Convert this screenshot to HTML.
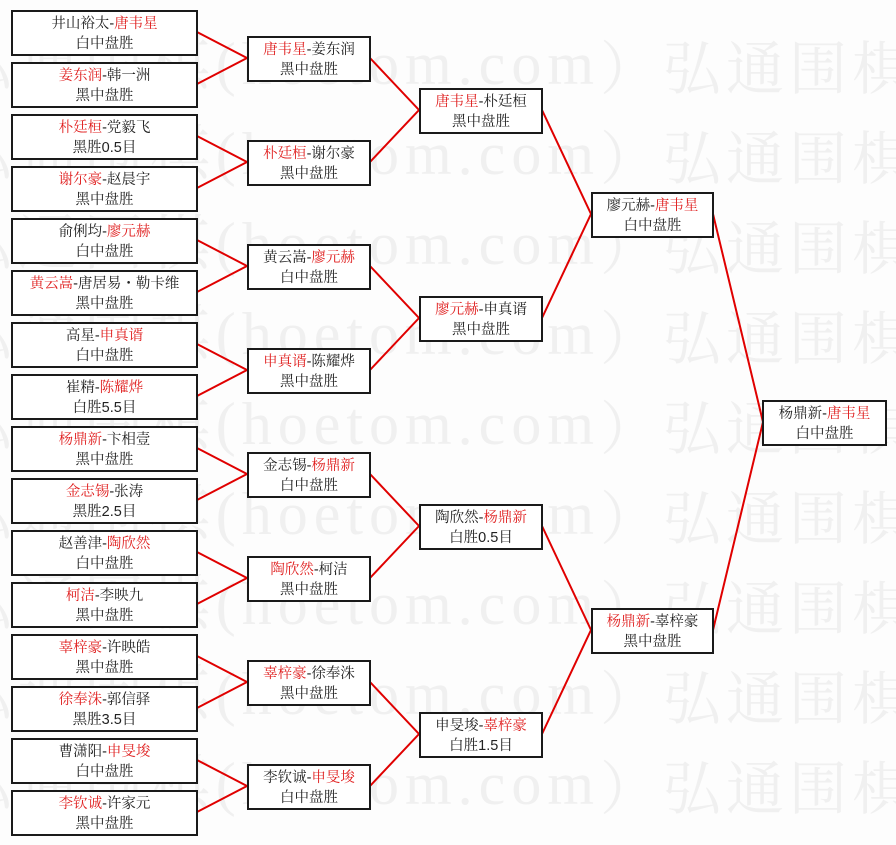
<!DOCTYPE html>
<html><head><meta charset="utf-8">
<style>
html,body{margin:0;padding:0;background:#fdfdfd;}
body{width:896px;height:845px;position:relative;overflow:hidden;font-family:"Liberation Sans","Noto Serif CJK SC","Noto Sans CJK SC",serif;}
.wl{position:absolute;right:296px;font-size:60px;letter-spacing:6px;line-height:64px;color:#f0f0f0;white-space:nowrap;font-family:"Liberation Serif","Noto Serif CJK SC",serif;text-align:right;}
.wr{position:absolute;left:600px;font-size:58px;letter-spacing:5px;line-height:64px;color:#f0f0f0;white-space:nowrap;font-family:"Noto Serif CJK SC",serif;}
.b{position:absolute;box-sizing:border-box;border:2px solid #1a1a1a;background:#fff;text-align:center;font-size:14.5px;line-height:20px;padding-top:2px;color:#222;}
.c1{left:11px;width:187px;height:46px;}
.c2{left:247px;width:124px;height:46px;}
.c3{left:419px;width:124px;height:46px;}
.c4{left:591px;width:123px;height:46px;}
.c5{left:762px;width:125px;height:46px;}
.r{color:#e02020;}
svg{position:absolute;left:0;top:0;}
</style></head><body>
<div class="wl" style="top:32px">弘通围棋(hoetom.com</div><div class="wr" style="top:32px">）弘通围棋</div>
<div class="wl" style="top:122px">弘通围棋(hoetom.com</div><div class="wr" style="top:122px">）弘通围棋</div>
<div class="wl" style="top:212px">弘通围棋(hoetom.com</div><div class="wr" style="top:212px">）弘通围棋</div>
<div class="wl" style="top:302px">弘通围棋(hoetom.com</div><div class="wr" style="top:302px">）弘通围棋</div>
<div class="wl" style="top:392px">弘通围棋(hoetom.com</div><div class="wr" style="top:392px">）弘通围棋</div>
<div class="wl" style="top:482px">弘通围棋(hoetom.com</div><div class="wr" style="top:482px">）弘通围棋</div>
<div class="wl" style="top:572px">弘通围棋(hoetom.com</div><div class="wr" style="top:572px">）弘通围棋</div>
<div class="wl" style="top:662px">弘通围棋(hoetom.com</div><div class="wr" style="top:662px">）弘通围棋</div>
<div class="wl" style="top:752px">弘通围棋(hoetom.com</div><div class="wr" style="top:752px">）弘通围棋</div>

<svg width="896" height="845">
<g stroke="#e00000" stroke-width="2" fill="none">
<path d="M197 32L247 58L197 84 M197 136L247 162L197 188 M197 240L247 266L197 292 M197 344L247 370L197 396 M197 448L247 474L197 500 M197 552L247 578L197 604 M197 656L247 682L197 708 M197 760L247 786L197 812"/>
<path d="M370 58L419 110L370 162 M370 266L419 318L370 370 M370 474L419 526L370 578 M370 682L419 734L370 786"/>
<path d="M542 110L591 214L542 318 M542 526L591 630L542 734"/>
<path d="M713 214L763 422L713 630"/>
</g>
</svg>

<div class="b c1" style="top:10px">井山裕太-<span class="r">唐韦星</span><br>白中盘胜</div>
<div class="b c1" style="top:62px"><span class="r">姜东润</span>-韩一洲<br>黑中盘胜</div>
<div class="b c1" style="top:114px"><span class="r">朴廷桓</span>-党毅飞<br>黑胜0.5目</div>
<div class="b c1" style="top:166px"><span class="r">谢尔豪</span>-赵晨宇<br>黑中盘胜</div>
<div class="b c1" style="top:218px">俞俐均-<span class="r">廖元赫</span><br>白中盘胜</div>
<div class="b c1" style="top:270px"><span class="r">黄云嵩</span>-唐居易・勒卡维<br>黑中盘胜</div>
<div class="b c1" style="top:322px">高星-<span class="r">申真谞</span><br>白中盘胜</div>
<div class="b c1" style="top:374px">崔精-<span class="r">陈耀烨</span><br>白胜5.5目</div>
<div class="b c1" style="top:426px"><span class="r">杨鼎新</span>-卞相壹<br>黑中盘胜</div>
<div class="b c1" style="top:478px"><span class="r">金志锡</span>-张涛<br>黑胜2.5目</div>
<div class="b c1" style="top:530px">赵善津-<span class="r">陶欣然</span><br>白中盘胜</div>
<div class="b c1" style="top:582px"><span class="r">柯洁</span>-李映九<br>黑中盘胜</div>
<div class="b c1" style="top:634px"><span class="r">辜梓豪</span>-许映皓<br>黑中盘胜</div>
<div class="b c1" style="top:686px"><span class="r">徐奉洙</span>-郭信驿<br>黑胜3.5目</div>
<div class="b c1" style="top:738px">曹潇阳-<span class="r">申旻埈</span><br>白中盘胜</div>
<div class="b c1" style="top:790px"><span class="r">李钦诚</span>-许家元<br>黑中盘胜</div>

<div class="b c2" style="top:36px"><span class="r">唐韦星</span>-姜东润<br>黑中盘胜</div>
<div class="b c2" style="top:140px"><span class="r">朴廷桓</span>-谢尔豪<br>黑中盘胜</div>
<div class="b c2" style="top:244px">黄云嵩-<span class="r">廖元赫</span><br>白中盘胜</div>
<div class="b c2" style="top:348px"><span class="r">申真谞</span>-陈耀烨<br>黑中盘胜</div>
<div class="b c2" style="top:452px">金志锡-<span class="r">杨鼎新</span><br>白中盘胜</div>
<div class="b c2" style="top:556px"><span class="r">陶欣然</span>-柯洁<br>黑中盘胜</div>
<div class="b c2" style="top:660px"><span class="r">辜梓豪</span>-徐奉洙<br>黑中盘胜</div>
<div class="b c2" style="top:764px">李钦诚-<span class="r">申旻埈</span><br>白中盘胜</div>

<div class="b c3" style="top:88px"><span class="r">唐韦星</span>-朴廷桓<br>黑中盘胜</div>
<div class="b c3" style="top:296px"><span class="r">廖元赫</span>-申真谞<br>黑中盘胜</div>
<div class="b c3" style="top:504px">陶欣然-<span class="r">杨鼎新</span><br>白胜0.5目</div>
<div class="b c3" style="top:712px">申旻埈-<span class="r">辜梓豪</span><br>白胜1.5目</div>

<div class="b c4" style="top:192px">廖元赫-<span class="r">唐韦星</span><br>白中盘胜</div>
<div class="b c4" style="top:608px"><span class="r">杨鼎新</span>-辜梓豪<br>黑中盘胜</div>

<div class="b c5" style="top:400px">杨鼎新-<span class="r">唐韦星</span><br>白中盘胜</div>
</body></html>
